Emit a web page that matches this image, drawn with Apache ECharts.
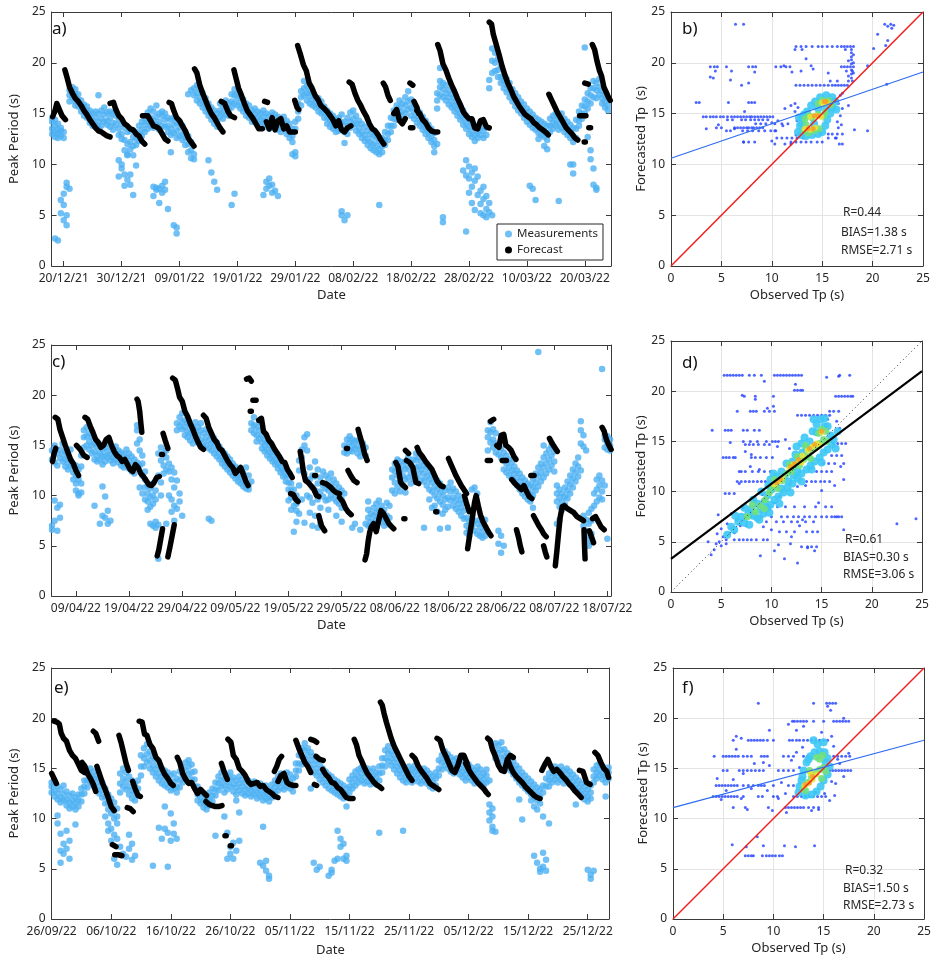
<!DOCTYPE html>
<html>
<head>
<meta charset="utf-8">
<script src="https://cdn.jsdelivr.net/npm/echarts@6/dist/echarts.min.js"></script>
<style>
html,body{margin:0;padding:0;background:#fff;}
#chart{width:937px;height:960px;}
</style>
</head>
<body>
<div id="chart"></div>
<script>
// ---------- tick labels ----------
var tickDaysA = [0,10,20,30,40,50,60,70,80,90];
var tickLabelsA = ['20/12/21','30/12/21','09/01/22','19/01/22','29/01/22','08/02/22','18/02/22','28/02/22','10/03/22','20/03/22'];
var tickDaysC = [0,10,20,30,40,50,60,70,80,90,100];
var tickLabelsC = ['09/04/22','19/04/22','29/04/22','09/05/22','19/05/22','29/05/22','08/06/22','18/06/22','28/06/22','08/07/22','18/07/22'];
var tickDaysE = [0,10,20,30,40,50,60,70,80,90];
var tickLabelsE = ['26/09/22','06/10/22','16/10/22','26/10/22','05/11/22','15/11/22','25/11/22','05/12/22','15/12/22','25/12/22'];

// ---------- panel a : measurements [day, values...] (day 0 = 20/12/21) ----------
var measA = [
[-2.0,13.5,14.2,13.0,14.6],[-1.5,13.8,13.2,12.7,14.4,2.7],[-1.0,14.0,13.4,12.6,13.0,2.5],[-0.5,13.6,12.8,13.3,5.2,6.5],
[0.0,13.2,12.6,7.1,4.5,6.0],[0.5,8.2,7.8,4.0,5.0],[1.0,16.8,17.3,16.2,7.6],[1.5,17.2,16.6,17.6],[2.0,16.9,16.2,17.4,15.8],
[2.5,16.4,15.7,16.9],[3.0,15.8,16.3,15.2],[3.5,15.5,15.9,14.8],[4.0,15.2,14.6,15.7],[4.5,14.8,15.3,14.1],[5.0,14.3,15.0,13.8],
[5.5,14.6,13.9,15.2],[6.0,14.2,15.0,13.6,16.8],[6.5,14.5,13.8,15.3],[7.0,14.9,14.2,15.6],[7.5,14.3,15.1,13.9],[8.0,14.6,15.2,13.7],
[8.5,14.1,15.0,13.4],[9.0,14.8,13.9,15.3],[9.5,13.5,14.4,12.9,10.4,8.8],[10.0,13.0,14.0,12.5,9.6,10.0],[10.5,12.4,13.6,11.4,7.9,9.0],
[11.0,12.0,13.2,11.0,10.9,8.5],[11.5,12.2,11.5,13.3,8.0,9.0],[12.0,11.8,12.7,10.9,7.0],[12.5,12.5,11.9,13.2,9.9],[13.0,13.0,12.3,13.8],
[13.5,13.4,12.8,14.2],[14.0,13.9,13.2,14.5],[14.5,14.2,13.5,15.1],[15.0,13.8,14.6,15.5],[15.5,14.3,13.6,15.2,7.8,6.9],
[16.0,14.7,13.9,15.8,7.5,7.7],[16.5,14.2,15.0,13.4,7.6,6.2],[17.0,14.8,13.8,15.2,7.9,7.2],[17.5,14.4,13.7,15.0,8.3,7.5],
[18.0,13.8,14.6,13.2,5.6],[18.5,13.5,14.4,12.9,11.2],[19.0,13.9,13.1,14.6,4.0],[19.5,13.3,14.1,12.6,3.2,3.8],[20.0,13.6,12.8,14.2],
[20.5,13.0,12.4,13.8],[21.0,12.6,11.9,13.2],[21.5,12.0,11.2,12.8,16.9],[22.0,11.4,10.6,12.2,17.3],[22.5,10.5,11.0,17.5,16.8],
[23.0,17.8,17.0,16.3],[23.5,17.4,16.6,16.0],[24.0,17.0,16.2,15.6],[24.5,16.5,15.8,15.2],[25.0,16.0,15.3,14.8,10.4],
[25.5,15.6,14.9,14.4,9.2],[26.0,15.3,14.6,14.0,8.3],[26.5,15.0,14.3,13.7,7.5],[27.0,15.3,14.7,16.0],[27.5,15.1,14.5,15.8],
[28.0,15.6,14.9,16.3],[28.5,15.4,16.0,14.8],[29.0,16.2,15.6,16.9,6.0],[29.5,16.8,16.0,17.4,7.1],[30.0,16.5,15.8,17.0],
[30.5,16.1,15.5,16.7],[31.0,15.7,15.2,16.4],[31.5,15.4,14.8,16.0],[32.0,15.1,14.6,15.8],[32.5,15.3,14.7,14.2],[33.0,14.9,14.3,15.5],
[33.5,14.6,14.0,15.2],[34.0,14.4,13.8,15.0],[34.5,14.7,14.1,15.3,7.0],[35.0,14.3,13.7,15.0,8.3,7.6],[35.5,14.0,13.5,14.8,8.6,7.9],
[36.0,14.5,13.8,15.1,8.0,7.2],[36.5,14.2,13.6,14.9,7.4],[37.0,14.0,13.4,14.7,6.9],[37.5,13.8,14.5,13.2],[38.0,14.1,13.5,14.7],
[38.5,13.6,13.0,14.3],[39.0,13.2,12.6,14.0],[39.5,12.8,12.2,13.5,11.0],[40.0,13.5,11.2,14.2,10.8],[40.5,15.2,16.0,14.5],
[41.0,16.6,17.2,15.8],[41.5,17.5,16.8,18.2],[42.0,17.0,16.3,17.7],[42.5,16.7,17.3,16.0],[43.0,16.4,17.0,15.8],[43.5,16.1,16.6,15.6],
[44.0,15.8,16.5,15.2],[44.5,15.5,16.2,15.0],[45.0,15.1,14.6,15.7],[45.5,14.6,14.0,15.3],[46.0,14.3,13.7,15.0],[46.5,14.0,13.5,14.8],
[47.0,13.7,14.4,13.2],[47.5,13.8,14.6,13.3],[48.0,14.1,13.4,14.9,5.4,5.0],[48.5,13.2,12.1,14.2,4.5],[49.0,13.8,14.6,13.0,5.0],
[49.5,14.2,15.1,13.6],[50.0,14.5,13.9,15.3],[50.5,14.0,13.3,14.8],[51.0,13.6,13.0,14.3],[51.5,13.2,12.6,14.0],[52.0,12.9,12.3,13.7],
[52.5,12.5,11.9,13.3],[53.0,12.2,11.6,13.0],[53.5,12.0,11.4,12.8],[54.0,11.8,11.2,12.6],[54.5,11.5,12.3,11.0,6.0],[55.0,11.8,12.6,11.2],
[55.5,12.4,13.2,11.9],[56.0,13.0,13.8,12.4],[56.5,13.8,14.6,13.2],[57.0,14.5,15.3,13.8],[57.5,15.0,15.8,14.4],[58.0,15.6,16.3,14.9],
[58.5,15.2,16.0,14.5],[59.0,15.8,16.6,15.0],[59.5,16.2,17.2,15.4],[60.0,15.6,14.8,16.4],[60.5,15.2,14.5,15.9],[61.0,14.8,14.1,15.5],
[61.5,14.4,13.8,15.1],[62.0,14.0,13.4,14.7],[62.5,13.6,13.0,14.3],[63.0,13.2,12.6,13.9],[63.5,12.8,12.2,13.5],[64.0,12.4,11.8,13.1,11.2],
[64.5,15.5,16.3,17.0,12.0],[65.0,16.8,17.6,18.2,19.5],[65.5,17.4,16.6,18.0,4.8,4.3],[66.0,17.0,16.3,17.8],[66.5,16.6,15.9,17.3],
[67.0,16.2,15.6,16.9],[67.5,15.8,15.2,16.5],[68.0,15.4,14.8,16.0],[68.5,15.0,14.4,15.7],[69.0,14.6,13.9,15.3,9.4],
[69.5,14.1,13.5,14.8,10.4,8.9,3.4],[70.0,13.7,13.0,14.4,9.8,8.6,7.2],[70.5,13.3,12.7,14.0,9.2,7.8,6.2],[71.0,12.9,12.3,13.6,8.4,9.6,5.5],
[71.5,13.2,12.6,13.8,8.8,7.0],[72.0,13.6,12.9,14.2,7.4,6.1,5.2],[72.5,12.6,13.3,6.6,5.0,7.8],[73.0,12.9,13.6,5.6,6.9,4.8],
[73.5,17.5,18.3,6.2,5.3],[74.0,19.0,20.2,21.4,5.0],[74.5,21.0,20.0,19.2],[75.0,20.4,19.3,18.6],[75.5,19.6,18.6,18.0],
[76.0,18.2,17.5,18.8],[76.5,17.8,17.1,18.4],[77.0,17.3,16.6,18.0],[77.5,16.8,16.2,17.4],[78.0,16.4,15.7,17.0],[78.5,16.0,15.3,16.6],
[79.0,15.6,15.0,16.2],[79.5,15.2,14.6,15.9],[80.0,14.8,14.2,15.5],[80.5,14.5,13.9,15.2,7.9],[81.0,14.2,13.6,14.9,7.6],
[81.5,14.0,13.4,14.6,6.5],[82.0,13.7,13.1,14.4,12.5],[82.5,13.5,12.9,14.2],[83.0,13.3,12.7,14.0,11.8],[83.5,13.0,12.4,13.8,11.5],
[84.0,13.8,14.5,13.2],[84.5,14.1,14.8,13.5],[85.0,14.4,15.0,13.8],[85.5,14.0,14.7,13.4,6.4],[86.0,14.3,15.0,13.6],[86.5,13.8,14.5,13.2],
[87.0,13.5,14.2,12.9],[87.5,13.2,13.9,12.6,10.0],[88.0,12.8,13.6,12.2,9.1,10.0],[88.5,13.5,14.4,12.6],[89.0,14.3,15.2,13.8],
[89.5,15.0,15.8,14.5],[90.0,15.7,16.4,15.0,21.5],[90.5,16.2,17.0,15.5,12.7],[91.0,16.8,17.5,16.0,11.4,10.5],[91.5,17.5,18.2,16.6,9.6,8.0],
[92.0,18.0,17.3,16.5,7.5,7.7],[92.5,17.6,16.9,18.4],[93.0,17.2,16.5,16.0],[93.5,16.8,16.2,15.6],[94.0,16.5,15.8,15.3]
];
// panel a : forecast segments [[day, value], ...]
var fcA = [
[[-1.9,14.7],[-1.5,15.3],[-1.2,16.0],[-0.9,16.1],[-0.6,15.2],[-0.3,14.8],[0.0,14.7],[0.3,14.4]],
[[0.2,19.3],[0.6,18.5],[1.0,17.6],[1.5,17.0],[2.0,16.5],[2.5,16.2],[3.0,15.8],[3.5,15.3],[4.0,14.9],[4.5,14.4],[5.0,14.0],[5.5,13.6],[6.0,13.3],[6.5,13.2],[7.0,13.0],[7.5,12.8],[8.0,12.7]],
[[8.0,16.0],[8.6,16.1],[9.0,15.4],[9.5,14.8],[10.0,14.5],[10.5,14.0],[11.0,13.8],[11.5,13.5],[12.0,13.4],[12.5,13.0],[13.0,12.8],[13.5,12.3],[14.0,12.0]],
[[13.6,14.8],[14.5,14.8],[15.0,14.3],[15.5,13.8],[16.0,13.7],[16.5,13.5],[17.0,13.0],[17.5,12.5],[18.0,12.3]],
[[18.2,16.1],[18.6,16.0],[19.0,15.3],[19.5,14.6],[20.0,14.3],[20.5,13.8],[21.0,13.3],[21.5,12.6],[22.0,12.2],[22.5,11.8]],
[[22.6,19.4],[23.0,19.0],[23.5,17.8],[24.0,17.0],[24.5,16.3],[25.0,15.6],[25.5,15.0],[26.0,14.6],[26.5,14.1],[27.0,13.6],[27.5,13.2]],
[[27.2,16.2],[27.8,16.0],[28.3,15.3],[28.8,14.8],[29.5,14.6]],
[[29.4,19.3],[29.8,18.4],[30.2,17.5],[30.7,16.8],[31.2,16.0],[31.7,15.3],[32.2,14.9],[32.7,14.5],[33.2,14.0],[33.7,13.5],[34.3,13.5]],
[[34.7,16.2],[35.2,16.1]],
[[35.0,14.2],[35.5,13.5],[36.0,14.6],[36.5,13.4],[37.0,14.3],[37.5,14.5],[38.0,13.5],[38.5,13.8],[39.0,13.2],[39.5,13.2],[40.0,13.2]],
[[39.9,16.3],[40.3,15.6],[40.6,15.4]],
[[40.4,21.7],[40.9,20.8],[41.4,19.8],[41.9,19.2],[42.4,18.0],[42.9,17.5],[43.4,16.8],[43.9,16.4],[44.4,15.8],[45.0,15.5],[45.5,15.2],[46.0,14.8],[46.5,14.4],[47.0,13.8],[47.5,14.3],[48.0,13.4],[48.5,13.2],[49.0,13.6],[49.6,13.8]],
[[49.3,18.1],[49.8,17.9],[50.3,17.0],[50.8,16.3],[51.3,15.8],[51.8,15.2],[52.3,14.7],[52.8,14.0],[53.3,13.5],[53.8,13.3],[54.3,12.9],[54.8,12.4],[55.3,12.0]],
[[55.2,18.0],[55.6,17.6],[56.0,16.8],[56.4,16.3]],
[[57.0,15.0],[57.5,15.4],[58.0,14.3],[58.5,14.0],[59.0,14.5]],
[[59.8,18.0],[60.3,17.8]],
[[60.5,16.2],[61.0,15.6],[61.3,15.0]],
[[59.9,13.6],[60.3,13.6]],
[[61.0,15.3],[61.5,15.0],[62.0,14.4],[62.5,14.1],[63.0,13.6],[63.5,13.3],[64.0,13.2],[64.6,13.2]],
[[64.6,21.8],[65.0,21.2],[65.5,19.9],[66.0,19.3],[66.5,18.5],[67.0,17.8],[67.5,17.2],[68.0,16.5],[68.5,15.9],[69.0,15.2],[69.5,14.8],[70.0,14.5],[70.5,14.5],[71.0,13.6],[71.5,13.5],[72.0,14.3],[72.5,14.4],[73.0,13.7],[73.5,13.6]],
[[73.5,24.0],[73.9,23.8],[74.2,22.8],[74.7,21.8],[75.2,20.8],[75.7,19.7],[76.2,18.8],[76.7,18.0],[77.2,17.4],[77.7,16.7],[78.2,16.2],[78.7,15.7],[79.2,15.3],[79.7,14.9],[80.2,14.7],[80.7,14.5],[81.2,14.1],[81.7,13.9],[82.2,13.6],[82.7,13.4],[83.2,13.2],[83.7,12.9]],
[[83.8,16.9],[84.3,16.3],[84.8,15.7],[85.3,15.1],[85.8,14.6],[86.3,14.1],[86.8,13.6],[87.3,13.3],[87.8,13.0],[88.3,12.6],[88.8,12.4]],
[[89.1,14.8],[89.7,14.8],[90.2,14.8]],
[[90.0,18.0],[90.6,17.9]],
[[89.9,12.2],[90.1,12.2]],
[[90.7,13.6],[91.0,13.6]],
[[91.3,21.8],[91.7,21.3],[92.1,20.2],[92.5,19.3],[92.9,18.7],[93.3,17.6],[93.7,17.1],[94.1,16.6],[94.4,16.3]]
];

// ---------- panel c : measurements (day 0 = 09/04/22) ----------
var measC = [
[-4.5,14.5,13.6,7.0,6.6],[-4.0,15.0,13.3,9.5,7.5],[-3.5,14.2,13.0,8.8,6.5],[-3.0,14.6,13.7,9.1,7.8],[-2.5,15.2,14.1,13.4],
[-2.0,14.4,13.6,12.9],[-1.5,13.9,13.2,12.6],[-1.0,13.5,14.6,12.9],[-0.5,13.0,12.3,11.6],[0.0,12.0,11.2,13.0,10.5],
[0.5,11.6,12.6,10.2,10.0],[1.0,14.0,12.9,11.2,10.3],[1.5,15.8,14.8,16.5],[2.0,16.8,15.9,15.0],[2.5,16.2,15.4,14.6],
[3.0,15.8,15.0,14.2],[3.5,15.2,14.4,13.6,9.0],[4.0,14.9,14.0,13.4],[4.5,14.3,13.6,15.1,7.2],[5.0,14.6,13.9,13.1,8.0,10.9],
[5.5,14.0,13.4,14.8,7.8,9.9],[6.0,14.4,13.8,15.3,7.2,8.5],[6.5,14.1,13.5,14.9,7.5],[7.0,13.8,14.6,13.2],[7.5,14.2,13.6,14.9],
[8.0,13.9,13.3,14.5],[8.5,13.6,14.3,13.0],[9.0,13.4,14.1,12.8],[9.5,13.8,14.6,13.0],[10.0,13.5,14.2,12.7],[10.5,13.1,13.9,12.4],
[11.0,12.8,13.6,12.2],[11.5,15.2,16.5,17.0,13.3],[12.0,14.5,15.6,13.0,10.8],[12.5,13.2,12.0,14.0,10.2],[13.0,11.6,12.4,10.8,9.6],
[13.5,11.0,10.2,9.4,8.6],[14.0,10.7,9.8,8.9,7.2],[14.5,11.2,10.0,9.2,7.0],[15.0,10.5,9.6,7.4,6.8],[15.5,14.2,12.0,7.1,3.7],
[16.0,13.5,14.8,11.3,10.0],[16.5,13.0,14.2,12.2],[17.0,13.8,14.5,12.6,7.2],[17.5,13.2,12.4,10.0],[18.0,12.8,11.6,9.6,8.4],
[18.5,12.3,10.8,9.0,7.5],[19.0,17.2,16.5,11.5,8.7],[19.5,17.8,16.9,10.2,9.4],[20.0,18.2,17.3,16.6,8.0],[20.5,17.5,16.8,16.0],
[21.0,17.2,16.4,15.8],[21.5,17.0,16.2,15.5],[22.0,16.8,16.0,15.2],[22.5,16.4,15.7,17.3],[23.0,16.0,15.4,16.8],[23.5,16.5,15.6,17.2],
[24.0,16.2,15.3,14.8],[24.5,15.8,15.0,16.6],[25.0,15.5,14.7,16.3,7.7],[25.5,15.2,14.5,16.0,7.5],[26.0,15.0,14.2,15.7],
[26.5,14.6,13.9,15.3],[27.0,14.2,13.6,14.9],[27.5,13.8,13.2,14.5],[28.0,13.5,12.9,14.2],[28.5,13.2,12.6,13.9],[29.0,12.9,12.3,13.6],
[29.5,12.6,12.0,13.2],[30.0,12.3,11.7,12.9],[30.5,12.0,11.4,12.7],[31.0,11.8,11.2,12.5],[31.5,11.5,10.9,12.2],[32.0,11.2,10.7,12.8],
[32.5,11.0,10.6,12.0],[33.0,17.2,16.5,11.4],[33.5,17.8,17.0,16.2],[34.0,16.8,16.0,15.4],[34.5,16.5,15.7,17.3],[35.0,16.0,15.3,14.7],
[35.5,15.6,15.0,14.4],[36.0,15.3,14.6,14.0],[36.5,15.0,14.3,13.7],[37.0,14.6,14.0,13.4],[37.5,14.3,13.6,13.1],[38.0,13.9,13.2,12.7],
[38.5,13.6,12.9,12.3],[39.0,13.2,12.5,11.9],[39.5,12.7,12.0,11.4],[40.0,12.0,11.3,10.6,9.5],[40.5,11.2,10.5,9.8,8.6],
[41.0,10.6,9.8,9.0,6.4],[41.5,10.0,9.2,8.5,7.4],[42.0,13.5,12.5,11.0,8.2],[42.5,14.6,13.8,9.6],[43.0,15.8,15.0,12.2,7.3],
[43.5,16.1,14.5,11.5,10.0],[44.0,12.8,11.6,9.8,8.3],[44.5,12.0,10.8,9.3,7.0],[45.0,13.4,11.9,10.5,8.0],[45.5,12.6,11.2,9.6,6.8],
[46.0,11.8,10.4,8.8,7.2],[46.5,12.4,11.0,9.9],[47.0,12.0,10.7,9.5],[47.5,11.7,10.5,9.6,8.6],[48.0,12.2,11.1,10.0],[48.5,11.6,10.6,9.7],
[49.0,11.2,10.3,9.4,8.0],[49.5,10.8,10.0,9.2],[50.0,10.5,9.6,8.8,7.4],[50.5,15.0,14.3,10.2],[51.0,15.6,14.8,14.2],[51.5,15.3,14.5,15.9],
[52.0,15.0,14.4,15.6,6.8],[52.5,15.4,14.7,7.2],[53.0,14.9,14.2,15.5],[53.5,14.6,13.9,6.6],[54.0,15.2,14.4],[54.5,14.8,14.0,7.2],
[55.0,8.6,7.8,7.0,9.4],[55.5,8.2,7.4,6.9],[56.0,8.8,8.0,7.3],[56.5,9.2,8.3,7.6,6.8],[57.0,9.5,8.6,7.8],[57.5,9.0,8.2,7.4],
[58.0,8.6,7.7,7.0],[58.5,8.0,7.3,9.3],[59.0,7.8,7.1,9.0],[59.5,10.5,11.8,12.6],[60.0,11.3,12.4,13.2,10.2],[60.5,12.0,13.0,13.6,10.8],
[61.0,12.5,13.4,11.4,10.4],[61.5,13.0,12.0,11.0],[62.0,13.4,12.6,11.6,10.3],[62.5,12.8,11.8,13.8],[63.0,13.2,12.2,11.2],
[63.5,12.6,11.6,13.6],[64.0,13.5,12.8,11.8,14.2],[64.5,13.8,12.9,12.2],[65.0,13.4,12.6,11.6],[65.5,13.0,12.2,11.4,6.8],
[66.0,12.8,11.9,11.0],[66.5,12.4,11.6,10.6,9.6],[67.0,12.1,11.3,10.4,8.8],[67.5,11.8,10.9,10.0,9.0],[68.0,11.5,10.6,9.7,8.4],
[68.5,11.2,10.3,9.4,6.7],[69.0,10.8,10.0,9.1,8.2],[69.5,10.5,9.6,8.6],[70.0,10.8,9.8,8.9,6.8],[70.5,11.3,10.4,9.5],[71.0,10.7,9.8,9.0],
[71.5,10.4,9.5,8.7],[72.0,10.0,9.2,8.4],[72.5,9.6,8.8,8.0],[73.0,9.3,8.5,7.7],[73.5,7.8,7.0,6.3],[74.0,7.4,6.6,6.0],[74.5,10.6,7.8,6.9],
[75.0,10.8,7.5,6.5],[75.5,10.2,7.2,6.2],[76.0,7.6,6.8,6.0],[76.5,7.2,6.4,5.8],[77.0,6.8,6.0,7.6],[77.5,14.5,15.8,16.5,6.4],
[78.0,15.3,16.3,17.3],[78.5,14.8,15.6,16.6],[79.0,14.3,15.2,16.2],[79.5,15.0,14.1,6.5,5.2],[80.0,14.7,13.8,6.0,4.3],
[80.5,14.3,13.5,12.6,5.0],[81.0,14.0,13.2,12.3],[81.5,13.6,12.8,12.0],[82.0,13.3,12.5,11.7],[82.5,12.9,12.2,11.4],[83.0,12.5,11.8,11.0],
[83.5,12.2,11.4,10.6],[84.0,11.8,11.0,10.2],[84.5,11.5,10.7,9.9],[85.0,11.2,10.4,9.6],[85.5,11.0,10.2,9.4],[86.0,11.6,10.8,10.0,8.8],
[86.5,12.2,11.3,10.5],[87.0,12.8,11.9,10.9,24.3],[87.5,13.2,12.3,11.4],[88.0,13.8,12.8,11.8,15.0],[88.5,14.2,13.2,12.2],
[89.0,14.6,13.6,12.6],[89.5,15.0,14.0,13.0],[90.0,14.4,13.4,12.4],[90.5,11.0,10.2,9.4,7.2],[91.0,10.6,9.8,8.9,7.6],[91.5,10.2,9.4,8.6],
[92.0,10.8,9.9,9.1],[92.5,11.4,10.5,9.7],[93.0,12.0,11.1,10.2],[93.5,12.6,11.7,10.8],[94.0,13.2,12.3,11.4],[94.5,13.8,12.9,11.9],
[95.0,15.2,16.5,17.4,12.5],[95.5,14.9,16.0,8.0,7.0],[96.0,14.5,7.6,6.5,5.6],[96.5,8.3,7.2,6.0,5.0],[97.0,8.7,7.5,6.2,5.4],
[97.5,10.2,9.0,7.8],[98.0,11.6,10.6,9.4],[98.5,12.0,11.0,9.8],[99.0,22.6,11.5,10.4,9.6],[99.5,14.8,15.6,16.0,11.0],
[100.0,15.2,15.9,14.6,5.7],[100.5,15.0,15.6,14.5]
];
var fcC = [
[[-4.4,13.4],[-4.1,14.2],[-3.8,14.7]],
[[-3.9,17.8],[-3.4,17.6],[-3.0,16.6],[-2.5,15.8],[-2.0,15.0],[-1.5,14.3],[-1.0,13.6],[-0.5,13.2],[0.0,12.5],[0.5,12.0]],
[[0.1,15.0],[0.8,14.6],[1.5,14.0],[2.1,13.8]],
[[1.7,17.8],[2.2,17.6],[2.7,16.9],[3.2,16.3],[3.7,15.6],[4.2,15.3],[4.7,14.8],[5.2,15.0],[5.7,15.6],[6.2,15.8],[6.7,15.0],[7.2,14.4],[7.7,14.0],[8.2,13.8],[8.7,13.4],[9.2,13.6],[9.7,13.1],[10.2,12.6],[10.7,12.4],[11.2,13.1],[11.7,12.8],[12.2,12.2],[12.7,11.9],[13.2,11.5],[13.7,11.1],[14.2,11.0],[14.7,11.3],[15.2,11.8],[15.7,11.9]],
[[11.5,19.6],[11.7,19.4],[12.0,18.4],[12.2,17.3],[12.4,16.3]],
[[15.3,4.0],[15.6,4.6],[15.9,5.5],[16.3,6.7]],
[[16.1,14.1],[16.3,14.1]],
[[16.4,16.2],[16.8,15.5],[17.3,14.7]],
[[17.3,3.9],[17.7,4.9],[18.1,6.0],[18.5,7.1]],
[[18.2,21.7],[18.7,21.5],[19.1,20.7],[19.5,19.8],[20.0,19.4],[20.5,18.4],[21.0,17.9],[21.5,17.2],[22.0,16.6],[22.5,15.9],[23.0,15.3],[23.5,14.8],[24.0,14.6]],
[[24.0,18.0],[24.5,17.7],[25.0,16.8],[25.5,16.2],[26.0,15.6],[26.5,15.3],[27.0,14.7],[27.5,14.5],[28.0,14.0],[28.5,13.5],[29.0,13.1],[29.5,12.8],[30.0,12.2],[30.5,12.5],[31.0,12.8],[31.5,12.1],[32.0,11.4],[32.4,11.0]],
[[32.1,21.6],[32.6,21.7],[33.0,21.4]],
[[32.8,18.4],[33.0,18.4]],
[[33.3,19.5],[33.9,19.5]],
[[34.4,17.5],[34.9,17.7],[35.3,16.4],[35.8,16.1],[36.3,15.5],[36.8,15.2],[37.3,14.7],[37.8,14.3],[38.3,13.9],[38.8,13.4],[39.3,13.3],[39.8,12.6],[40.3,12.2],[40.7,11.8]],
[[40.4,10.2],[40.9,10.1],[41.4,9.6],[41.8,9.4]],
[[42.2,14.4],[42.5,13.5],[42.8,12.4],[43.2,11.5],[43.7,11.3],[44.2,11.0],[44.8,10.6],[45.3,10.0],[45.7,9.9]],
[[44.9,12.0],[45.1,12.0]],
[[45.7,8.0],[46.2,7.0],[46.8,6.5]],
[[46.4,11.3],[47.0,11.2],[47.5,11.0],[48.0,10.8],[48.5,10.5],[49.0,10.3],[49.6,10.2]],
[[49.6,9.8],[50.2,9.4],[50.7,8.8],[51.2,8.4],[51.8,8.1]],
[[50.9,14.7],[51.1,14.7]],
[[51.2,12.5],[51.7,12.0],[52.3,11.5],[52.9,11.3]],
[[53.1,16.6],[53.5,15.8],[53.9,15.1],[54.3,14.2],[54.8,13.5]],
[[54.4,3.6],[54.7,4.2],[55.0,5.5],[55.3,6.4],[55.6,6.9],[56.0,7.2],[56.5,6.4],[57.0,7.6],[57.4,8.5],[57.9,8.2],[58.4,7.7],[58.9,7.2],[59.4,6.9],[59.8,6.7]],
[[60.2,13.3],[60.6,12.9],[61.1,11.3],[61.6,11.0],[62.0,10.8]],
[[61.7,7.7],[61.9,7.7]],
[[62.0,14.5],[62.6,14.2]],
[[62.2,13.5],[62.8,13.3],[63.4,12.8],[63.7,12.0],[64.0,11.3],[64.5,11.2]],
[[64.2,14.8],[64.6,14.3],[65.2,13.9],[65.8,13.4],[66.4,13.0],[67.0,12.6],[67.5,12.0],[68.0,11.4],[68.6,11.0],[69.1,10.9]],
[[67.7,8.4],[67.9,8.4]],
[[70.1,13.7],[70.5,13.2],[71.0,12.6],[71.5,12.0],[72.0,11.5],[72.5,11.0],[73.0,10.6],[73.5,10.2]],
[[73.1,10.0],[73.5,9.2],[74.0,8.4]],
[[73.7,4.7],[74.1,6.1],[74.6,7.8],[75.0,9.3],[75.3,10.0],[75.7,9.0],[76.1,8.1],[76.6,7.4],[77.1,6.9],[77.6,6.4],[78.1,6.0]],
[[77.4,13.5],[78.0,13.5]],
[[78.0,17.4],[78.6,17.6]],
[[79.2,15.0],[79.6,14.8],[80.0,16.0],[80.5,16.1],[80.9,15.0],[81.4,14.8],[81.9,14.5],[82.4,13.9],[82.8,13.6]],
[[80.2,13.5],[81.0,13.5]],
[[82.0,11.6],[82.6,11.2],[83.2,10.9],[83.8,10.6],[84.3,11.0],[84.8,10.4],[85.3,9.9],[85.8,9.7]],
[[85.6,12.0],[86.2,12.0]],
[[82.9,6.6],[83.3,5.8],[83.6,5.0],[83.9,4.4]],
[[86.1,8.0],[86.6,7.5],[87.1,7.0],[87.6,6.6],[88.0,6.2],[88.5,5.9]],
[[88.0,5.0],[88.3,4.4],[88.6,3.9]],
[[89.1,15.7],[89.6,15.2],[90.1,14.8],[90.6,14.4]],
[[90.2,3.0],[90.5,4.5],[90.8,6.2],[91.1,7.8],[91.5,8.9],[91.9,9.0],[92.5,8.7],[93.1,8.5],[93.7,8.3],[94.3,7.9],[94.9,7.7],[95.5,7.5]],
[[95.6,6.6],[95.7,5.0],[95.8,3.7]],
[[96.6,6.5],[97.0,5.9],[97.4,5.3]],
[[97.2,7.7],[97.8,7.9],[98.3,7.4],[98.8,6.9],[99.4,6.6]],
[[99.0,16.8],[99.4,16.4],[99.8,15.6],[100.3,15.0],[100.7,14.6]]
];

// ---------- panel e : measurements (day 0 = 26/09/22) ----------
var measE = [
[0.0,13.2,12.6,13.6],[0.5,12.8,12.2,13.5],[1.0,12.5,11.9,13.2,10.3,9.5],[1.5,12.1,11.6,12.9,8.5,6.8,5.6],[2.0,12.4,11.8,13.3,7.5,6.5],
[2.5,11.9,11.3,12.7,8.8,7.0],[3.0,11.6,11.0,12.3,7.8,6.0],[3.5,11.8,11.2,12.5],[4.0,11.5,10.9,12.1,9.4],[4.5,11.8,11.2,12.4],
[5.0,12.4,11.7,13.0],[5.5,13.2,12.5,13.8],[6.0,13.8,13.1,14.5],[6.5,14.3,13.6,15.0],[7.0,14.0,13.3,14.7],[7.5,13.6,12.9,14.3],
[8.0,13.2,12.5,14.0],[8.5,12.8,12.1,13.6],[9.0,12.2,11.5,13.0,10.2],[9.5,11.6,10.9,12.4,9.5,8.8],[10.0,11.2,10.5,12.0,9.0,7.8],
[10.5,10.8,10.0,11.6,8.4,6.0],[11.0,10.2,9.5,11.0,8.0,5.4],[11.5,13.5,14.5,12.6,7.2],[12.0,14.0,15.0,13.2,6.5],[12.5,13.7,14.6,12.9,6.2],
[13.0,13.2,14.2,12.4,8.4,7.0],[13.5,12.8,13.8,12.0,7.5,5.9],[14.0,12.5,13.5,11.8,6.3],[14.5,13.0,13.8,12.3],[15.0,15.2,16.3,14.3],
[15.5,16.0,17.0,15.2],[16.0,16.4,17.4,15.6],[16.5,15.8,16.7,15.0],[17.0,15.3,16.2,14.6,5.3],[17.5,14.9,15.8,14.2],[18.0,14.5,15.3,13.8,9.1],
[18.5,14.2,15.0,13.5,8.0],[19.0,14.0,14.8,13.3,9.0,11.2],[19.5,13.8,14.6,13.1,8.6,5.2],[20.0,13.5,14.3,12.8,7.8,10.5],
[20.5,13.7,14.5,13.0,8.5,9.5],[21.0,13.2,14.0,12.6,8.0],[21.5,13.8,14.7,13.1],[22.0,14.3,15.1,13.6],[22.5,14.8,15.6,14.0],
[23.0,15.2,15.8,14.4],[23.5,14.6,15.4,13.9],[24.0,13.9,14.7,13.2],[24.5,13.2,12.4,11.8],[25.0,12.8,12.1,11.5],[25.5,12.4,11.7,11.1],
[26.0,12.0,11.4,10.9],[26.5,12.6,11.9,11.3],[27.0,13.0,12.3,11.7],[27.5,13.6,12.9,12.3,8.3],[28.0,14.2,13.5,12.8],[28.5,14.6,13.8,13.2],
[29.0,14.0,13.3,12.6,10.2],[29.5,14.3,13.6,12.9,8.6,6.0],[30.0,14.6,13.9,13.2,7.2,6.5],[30.5,14.1,13.4,12.7,7.6,6.0],
[31.0,13.8,13.1,12.4,6.8,11.8],[31.5,14.2,13.5,12.8,7.8,10.6],[32.0,13.9,13.2,12.5],[32.5,13.6,12.9,12.3],[33.0,13.8,13.1,12.5],
[33.5,13.5,12.8,12.2],[34.0,13.7,13.0,12.4],[34.5,13.3,12.6,12.0],[35.0,13.5,12.8,12.2,5.6],[35.5,13.1,12.4,11.8,5.3,9.2],
[36.0,13.3,12.6,12.0,4.8,5.8],[36.5,12.9,12.2,11.7,4.3,4.0],[37.0,13.4,12.7,12.1],[37.5,13.8,13.1,12.5],[38.0,14.2,13.5,12.8],
[38.5,14.5,13.8,13.1],[39.0,14.2,13.5,12.9],[39.5,14.6,13.9,13.2],[40.0,14.4,13.7,13.0],[40.5,14.0,13.3,12.7],[41.0,14.8,15.5,14.2],
[41.5,15.5,16.3,14.8],[42.0,16.2,17.0,15.4],[42.5,16.8,17.5,15.9],[43.0,16.3,17.0,15.5],[43.5,15.8,16.6,15.0,13.0],[44.0,15.4,16.2,14.6,5.6],
[44.5,15.0,15.8,14.3,4.9],[45.0,14.6,15.4,13.9,5.2],[45.5,14.3,15.0,13.6],[46.0,14.0,14.7,13.3],[46.5,13.7,14.4,13.0,4.3],
[47.0,13.5,14.2,12.8,4.6,4.9],[47.5,13.2,13.9,12.6,5.8],[48.0,13.0,13.7,12.4,6.0,8.8],[48.5,12.8,13.5,12.2,7.2,8.0],
[49.0,12.6,13.3,12.0,6.0,7.5],[49.5,12.4,13.0,11.2,6.3,5.8],[50.0,13.2,13.9,12.6],[50.5,13.6,14.3,13.0],[51.0,14.0,14.7,13.3],
[51.5,14.2,14.9,13.6],[52.0,14.5,15.1,13.8],[52.5,14.1,14.8,13.5],[53.0,14.4,15.0,13.7],[53.5,14.0,14.7,13.4],[54.0,14.3,15.0,13.6],
[54.5,14.0,14.6,13.4],[55.0,14.5,15.2,13.8,8.6],[55.5,15.3,16.0,14.6],[56.0,16.0,16.8,15.2],[56.5,16.5,17.2,15.7],[57.0,16.0,16.7,15.3],
[57.5,15.6,16.3,14.9],[58.0,15.2,15.9,14.5],[58.5,14.8,15.4,14.1],[59.0,14.5,15.1,13.8,8.8],[59.5,14.2,14.8,13.6],[60.0,14.6,15.2,13.9],
[60.5,14.3,14.9,13.6],[61.0,14.7,15.3,14.0],[61.5,14.4,15.0,13.7],[62.0,14.1,14.7,13.5],[62.5,14.5,15.0,13.8],[63.0,14.2,14.8,13.5],
[63.5,13.9,14.5,13.2],[64.0,13.6,14.2,13.0],[64.5,14.0,14.6,13.3],[65.0,15.0,15.8,14.3],[65.5,15.6,16.3,14.9],[66.0,16.0,16.7,15.3],
[66.5,15.7,16.4,15.0],[67.0,15.4,16.1,14.7],[67.5,15.1,15.8,14.5],[68.0,15.4,16.0,14.8],[68.5,15.0,15.7,14.4],[69.0,14.7,15.4,14.1],
[69.5,14.4,15.0,13.8],[70.0,14.8,15.4,14.1],[70.5,14.5,15.1,13.8],[71.0,14.2,14.8,13.5],[71.5,14.6,15.2,13.9],[72.0,14.2,14.9,13.6],
[72.5,13.9,14.5,13.3],[73.0,14.3,14.9,13.6],[73.5,13.8,11.4,10.6,9.8],[74.0,11.0,10.2,9.2,8.8],[74.5,16.0,16.8,17.5,8.7],
[75.0,16.5,17.3,15.6],[75.5,16.8,17.6,16.0],[76.0,16.2,16.9,15.5],[76.5,15.8,16.5,15.1],[77.0,15.4,16.1,14.8],[77.5,15.0,15.7,14.4],
[78.0,14.6,15.3,14.0],[78.5,14.3,15.0,13.6,11.9],[79.0,13.9,14.6,13.3,9.9],[79.5,13.6,14.3,13.0],[80.0,13.3,14.0,12.7],
[80.5,13.0,13.7,12.4,11.8],[81.0,12.7,13.4,12.1,11.2,6.3],[81.5,12.4,13.1,11.8,10.9,5.6],[82.0,12.2,12.9,11.5,5.0,4.7],
[82.5,12.6,13.3,10.2,5.2,6.6],[83.0,13.2,14.0,4.8,5.9],[83.5,13.8,14.5,13.2,9.5],[84.0,14.2,14.9,13.6],[84.5,14.5,15.2,13.9],
[85.0,14.2,14.9,13.6],[85.5,14.5,15.2,13.9],[86.0,14.1,14.8,13.5],[86.5,14.4,15.0,13.8],[87.0,14.0,14.7,13.4],[87.5,13.7,14.4,13.1],
[88.0,13.4,14.1,12.8,11.4],[88.5,13.1,13.8,12.5],[89.0,12.8,13.5,12.2],[89.5,12.5,13.2,11.9],[90.0,12.2,12.9,11.7,4.9],
[90.5,12.6,13.3,12.0,4.4,4.0],[91.0,14.2,14.9,13.6,4.8],[91.5,14.6,15.3,14.0],[92.0,14.9,15.5,14.3],[92.5,14.5,15.2,13.9],
[93.0,14.2,14.8,13.6,12.2],[93.5,14.6,15.1,14.0]
];
var fcE = [
[[0.0,14.5],[0.4,14.0],[0.8,13.5]],
[[0.4,19.7],[0.9,19.6],[1.3,19.4],[1.6,18.5],[2.0,18.0],[2.5,17.7],[3.0,16.8],[3.5,16.3],[4.0,16.0],[4.5,15.4],[5.0,14.8],[5.5,14.6]],
[[5.1,15.6],[5.6,15.2],[6.1,14.4],[6.6,13.9],[7.0,13.4],[7.4,12.7]],
[[7.0,18.7],[7.4,18.5],[7.9,17.7]],
[[7.6,15.2],[8.0,14.5],[8.5,13.6],[9.0,12.9],[9.5,12.1],[10.0,11.2],[10.5,10.8]],
[[10.2,7.4],[10.8,7.2]],
[[10.6,6.4],[11.2,6.4],[11.8,6.3]],
[[11.3,18.3],[11.7,17.5],[12.1,16.5],[12.5,15.5],[12.9,14.8]],
[[12.7,11.1],[13.2,11.0],[13.7,10.7]],
[[13.6,13.7],[14.0,13.0],[14.5,12.3],[14.9,12.2]],
[[14.7,19.7],[15.2,19.6],[15.6,18.4],[16.0,18.3],[16.5,17.4],[17.0,17.0],[17.5,16.1],[18.0,15.8],[18.5,15.0],[19.0,14.4],[19.5,14.0],[20.0,13.5],[20.4,13.3]],
[[21.1,16.1],[21.5,15.6],[22.0,14.5],[22.5,13.9],[23.0,13.5],[23.5,13.6],[24.0,13.0],[24.5,12.5],[25.0,12.9],[25.5,12.6],[26.0,12.3]],
[[25.9,11.7],[26.5,11.4],[27.0,11.3],[27.5,11.2],[28.0,11.2],[28.6,11.3]],
[[28.5,15.5],[29.0,14.6],[29.5,13.9]],
[[29.1,8.3],[29.3,8.3]],
[[30.0,7.3],[30.2,7.3]],
[[29.6,17.9],[30.1,17.6],[30.5,16.3],[31.0,15.9],[31.5,15.0],[32.0,14.7],[32.5,14.3],[33.0,13.7],[33.5,13.4],[34.0,13.5],[34.5,13.6],[35.0,13.2],[35.5,13.3],[36.0,12.9],[36.5,12.7],[37.0,12.5],[37.5,12.2],[38.0,12.1]],
[[37.4,14.7],[37.8,15.2],[38.2,15.9],[38.6,16.2]],
[[38.0,13.7],[38.5,14.3],[39.0,14.5],[39.5,13.6],[40.0,13.4],[40.5,13.3],[41.0,13.3]],
[[41.0,17.8],[41.5,17.0],[42.0,16.3],[42.5,15.6],[43.0,15.2],[43.5,14.6]],
[[43.5,17.9],[44.0,17.8],[44.5,17.6]],
[[44.4,16.2],[45.0,15.9],[45.6,15.8]],
[[44.1,13.4],[44.5,13.3]],
[[45.5,14.9],[46.0,14.4],[46.5,14.1],[47.0,13.6],[47.5,13.5],[48.0,13.1],[48.5,12.9],[49.0,12.5],[49.5,12.1],[50.0,12.0],[50.6,12.0]],
[[50.8,17.9],[51.2,17.3],[51.6,16.3],[52.0,15.8],[52.5,15.1],[53.0,14.5],[53.5,14.1],[54.0,13.7],[54.5,13.4],[55.0,13.2],[55.4,13.0]],
[[55.2,21.6],[55.5,21.3],[55.8,20.5],[56.2,19.6],[56.6,18.8],[57.0,18.0],[57.5,17.2],[58.0,16.6],[58.5,16.0],[59.0,15.4],[59.5,14.8],[60.0,14.2],[60.5,13.8]],
[[60.5,16.3],[61.0,16.0],[61.5,15.3],[62.0,14.8],[62.5,14.4],[63.0,14.0],[63.5,13.5],[64.0,13.3],[64.5,13.1],[65.0,12.9]],
[[64.7,18.0],[65.2,17.8],[65.7,16.8],[66.2,16.2],[66.7,15.5],[67.2,14.8],[67.7,14.6],[68.2,15.3],[68.7,16.3],[69.2,16.3],[69.7,15.6],[70.0,15.0]],
[[69.5,15.5],[70.0,14.9],[70.5,14.4],[71.0,14.0],[71.5,13.6],[72.0,13.3],[72.5,13.0],[73.0,12.6],[73.3,12.4]],
[[73.2,18.0],[73.6,17.8],[74.0,16.9],[74.5,16.2],[75.0,15.3],[75.5,14.8],[76.0,14.7],[76.5,15.9],[77.0,16.3],[77.5,16.1]],
[[76.6,15.8],[77.0,15.2],[77.5,14.6],[78.0,14.2],[78.5,13.9],[79.0,13.6],[79.5,13.2],[80.0,12.9],[80.5,12.6],[81.0,12.3],[81.5,12.1],[82.0,12.0]],
[[82.3,14.8],[82.8,15.4],[83.3,15.9],[83.8,15.2],[84.3,14.7]],
[[84.8,14.9],[85.3,14.6],[85.8,14.2],[86.3,13.9],[86.8,13.5],[87.3,13.2],[87.8,12.8],[88.3,12.5],[88.9,12.1]],
[[88.6,14.8],[89.2,14.7],[89.8,13.6],[90.4,13.4]],
[[91.2,16.6],[91.7,16.3],[92.2,15.6],[92.7,15.0],[93.2,14.7],[93.5,14.1]]
];

// ---------- scatter panels: streaks [forecast y, [observed x...]] + loose points [x, y] ----------
var streaksB = [
[14.7,[3.2,3.5,3.9,4.2,4.5,4.9,5.2,5.6,6.0,6.3,6.6,6.9,7.2,7.5,7.8,8.0,8.3,8.6,8.9,9.2,9.5,9.8,10.1]],
[14.4,[5.6,6.1,7.0,7.4,7.9,8.3,8.7,9.1,9.6]],
[13.6,[4.5,5.0,6.3,6.6,6.9,7.2,7.5,7.7,8.0,8.2,8.5,8.8,9.1]],
[13.3,[5.5,5.9,7.1,7.6,8.1,8.7,9.3,9.9,10.4]],
[14.0,[8.4,8.9,9.4,10.3,11.0]],
[21.6,[12.4,12.9,13.4,14.0,14.6,15.0,15.5,16.0,16.5,16.9,17.2,17.5,17.8,18.1]],
[21.3,[12.3,13.0,17.3,17.9]],
[19.6,[3.9,4.3,4.6,5.5,7.7,8.1,8.4,10.4,10.9,11.4,11.8,16.9,17.2,17.5,17.8,18.1]],
[19.2,[4.4,6.0,12.9,17.4,18.0]],
[17.8,[12.4,12.8,13.2,13.6,14.0,14.4,14.8,15.2,15.6,16.0,16.3,16.6,16.9,17.2,17.5]],
[18.2,[15.8,16.5,17.6,18.0]],
[16.1,[2.5,2.8,5.7,7.7,8.0,8.3]],
[12.2,[7.2,7.7,8.3,11.9,12.4,12.9,13.4,13.9,14.5,15.0]],
[12.6,[10.5,11.0,11.5,12.0,12.5,13.1,15.6,16.3]],
[12.0,[10.3,11.3,11.9,16.7,17.0]],
[13.0,[15.6,16.0,16.5,17.0]]
];
var looseB = [
[17.9,18.5],[17.9,18.9],[17.9,19.3],[17.9,19.9],[17.9,20.3],[17.9,20.6],[17.9,21.0],[18.1,19.0],[18.1,20.0],[18.1,20.8],[17.6,18.7],[17.6,20.2],
[6.4,23.8],[7.2,23.8],[21.2,23.8],[21.5,23.6],[21.8,23.8],[22.1,23.7],[21.9,23.4],[20.5,22.8],[21.5,22.2],[21.3,21.7],[20.1,21.4],
[21.4,17.9],[19.5,19.7],[19.5,13.3],[18.2,13.4],[17.6,15.8],[16.8,16.8],[17.0,17.0],[11.3,15.5],[11.9,15.8],[12.3,16.0],[12.3,15.2],
[11.6,14.0],[11.1,13.8],[10.6,14.3],[10.0,14.1],[3.9,18.6],[4.2,18.5],[5.9,18.3],[7.0,17.8],[7.7,18.0],[7.3,15.2],[7.2,12.2],
[10.3,13.3],[10.0,12.3],[12.0,19.1],[13.4,20.4],[11.2,19.7],[16.5,14.2],[16.8,14.8],[17.0,15.5],[16.6,13.6],[16.9,13.9],[14.1,19.4],
[15.6,19.0],[13.9,19.7],[8.3,19.1],[6.3,13.5],[3.5,13.5],[4.7,13.9],[12.4,12.9],[12.5,14.3],[12.6,15.6],[16.6,16.0],[16.4,12.6]
];
var coreB = {
  c1: [[12.6,13.2],[12.8,13.8],[13.0,14.6],[12.9,12.9],[13.4,12.8],[14.0,12.9],[14.6,13.0],[15.0,13.2],[15.3,13.8],[15.5,14.4],[15.8,15.0],[16.0,15.6],[16.3,16.2],[16.0,16.6],[15.4,16.8],[14.8,16.6],[14.3,16.2],[13.9,15.8],[13.5,15.2],[13.2,14.9],[14.2,14.0],[15.4,15.5],[14.6,15.5],[16.4,15.4],[13.0,14.0],[12.7,14.6]],
  c2: [[13.2,13.3],[13.6,13.1],[14.2,13.3],[14.7,13.5],[13.4,13.9],[14.0,14.6],[14.6,14.9],[15.1,14.8],[15.3,15.1],[14.6,16.0],[15.0,16.3],[15.6,16.3],[15.9,15.9],[13.7,14.8],[13.3,14.5]],
  c3: [[13.3,13.5],[13.8,13.4],[14.3,13.6],[13.8,14.7],[14.4,14.8],[14.9,14.7],[15.0,16.1],[15.5,16.1],[15.2,16.0]],
  c4: [[13.6,13.5],[14.1,13.5],[14.2,14.8],[14.6,14.8],[15.2,16.2],[15.4,16.2]]
};

var streaksD = [
[21.6,[5.3,5.6,5.9,6.2,6.5,6.8,7.1,7.8,8.3,9.0,10.3,10.6,10.9,11.2,11.5,11.8,12.1,12.4,12.7,13.0,16.8,17.8]],
[20.1,[12.3,12.6,12.9,13.1]],
[19.5,[7.3,8.4,16.4,16.7,17.0,17.3,17.6,17.9,18.1]],
[18.0,[6.6,7.9,8.2,8.5,9.3,9.8,10.3,15.8,16.2,16.7]],
[17.6,[12.6,13.0,13.4,13.8,14.2,14.6,15.0,15.4,15.8]],
[16.1,[4.1,5.4,5.7,6.0,7.2,7.6,8.3,8.8]],
[15.0,[7.2,7.9,8.6,9.5,10.1,10.4,10.7]],
[14.7,[7.4,7.8,8.2,8.7,9.3,9.8]],
[13.4,[5.2,5.5,5.8,6.2,8.0,8.4,8.9,9.5,10.1]],
[12.0,[6.8,7.4,8.1,8.7,9.3,9.9,14.5,15.0,15.5,16.0]],
[11.0,[6.6,7.0,7.4,7.8,8.2,8.6,9.0,9.4,13.5,14.0,14.4,14.9,15.3,15.8]],
[12.8,[15.2,15.7,16.3,17.2]],
[13.6,[16.0,16.5,17.0]],
[14.8,[16.2,16.6,17.0,17.4]],
[9.8,[5.4,5.8,6.3]],
[8.5,[9.6,10.6,11.4,12.3,13.3,14.4,15.4,16.0]],
[7.5,[8.0,9.0,10.0,11.0,11.6,12.2,12.7,13.3,13.8,14.4,15.0,15.5,16.0,16.5,17.0]],
[7.0,[9.5,10.5,11.2,12.0,12.6,13.4,14.2]],
[5.2,[5.5,6.3,6.8,7.2,7.6,8.0,8.5,9.2,9.6]],
[6.0,[10.8,11.5,12.3,13.5,14.6]],
[4.5,[13.0,13.6,14.0,14.5]]
];
var looseD = [
[4.3,4.2],[4.0,3.7],[4.5,4.8],[4.8,5.0],[5.0,4.6],[5.2,5.5],[5.5,4.8],[5.8,5.8],[4.6,5.8],[3.7,5.0],[4.7,7.7],[8.9,3.6],[10.3,4.1],
[10.7,4.7],[11.3,3.3],[11.9,4.8],[12.6,2.9],[13.6,4.4],[14.3,4.1],[12.0,5.5],[12.8,6.6],[13.1,7.2],[14.1,6.0],[16.3,7.5],[16.7,7.5],
[17.2,6.2],[22.5,6.8],[24.4,7.3],[7.1,19.6],[8.4,19.2],[9.3,21.0],[12.4,20.7],[10.2,19.5],[16.7,21.5],[15.5,21.4],[9.6,18.3],[10.2,18.5],
[5.9,14.9],[6.4,13.4],[7.4,14.0],[7.9,12.5],[8.8,12.2],[9.0,10.2],[6.8,10.8],[10.6,14.5],[11.8,14.3],[11.4,15.2],[10.8,9.5],[10.3,8.9],
[12.6,10.5],[13.4,10.6],[16.9,12.5],[17.2,11.2],[15.0,10.1],[16.3,10.6],[14.7,8.9],[6.3,5.9],[6.9,6.6],[6.5,7.2],[7.5,6.6],[9.2,6.5],
[10.0,6.2],[8.0,13.7],[7.0,12.0],[15.6,17.2],[16.5,17.0],[16.8,16.3],[5.0,6.3],[5.6,6.8],[6.0,7.8],[7.2,8.4],[8.3,9.1],[9.1,9.7]
];
var coreD = {
  c1: [[5.6,5.7],[6.0,6.5],[6.3,6.2],[6.7,7.0],[7.0,7.5],[7.3,6.9],[7.7,7.8],[8.0,8.3],[8.2,7.6],[8.6,8.8],[8.9,8.2],[9.3,9.0],[9.6,9.6],[9.9,8.7],[10.0,10.2],[10.4,10.7],[11.0,10.3],[11.3,11.5],[11.7,11.0],[12.0,12.4],[12.2,11.6],[12.6,12.0],[12.8,13.2],[13.1,13.9],[13.5,14.3],[13.8,15.0],[14.1,16.0],[14.5,16.7],[14.9,17.2],[15.3,17.3],[15.6,16.5],[15.9,15.6],[16.2,15.2],[16.0,14.7],[15.6,14.2],[15.2,13.9],[14.8,13.4],[14.3,13.0],[13.9,12.6],[13.5,12.2],[13.0,11.8],[12.6,11.3],[12.1,10.8],[11.6,10.4],[11.2,9.9],[10.7,9.5],[10.3,9.2],[9.6,8.4],[9.2,7.8],[8.6,7.4],[11.0,12.0],[10.5,11.5],[12.1,13.0],[12.4,13.7],[13.0,14.8],[14.5,15.9],[15.3,16.5],[16.6,16.0],[10.2,11.8],[9.7,10.6],
       [6.4,7.6],[7.3,8.4],[8.2,9.2],[9.0,10.0],[7.8,6.7],[8.8,7.2],[9.8,7.9],[10.8,8.8],[11.9,9.9],[13.0,11.0],[14.0,12.2],[15.0,12.9],[12.5,14.5],[13.3,15.4],[14.2,17.2],[16.4,14.3],[11.5,12.8],[9.9,11.2]],
  c2: [[8.4,8.0],[8.9,8.6],[9.4,9.2],[9.8,9.9],[10.1,10.5],[10.6,10.3],[11.1,11.1],[11.5,11.8],[12.0,12.0],[12.3,12.6],[12.8,12.6],[13.2,13.2],[13.6,13.5],[14.0,14.2],[14.4,14.4],[14.8,14.8],[15.2,15.2],[14.7,15.8],[15.0,16.2],[15.4,16.0],[13.4,14.6],[12.6,13.5],[15.5,15.0],[10.3,11.2],[11.8,12.7],[13.9,13.3],[7.6,7.5],[8.1,8.7],[9.3,8.3]],
  c3: [[10.3,10.7],[10.7,11.0],[11.1,11.4],[11.8,12.3],[12.2,12.7],[12.7,13.0],[13.1,13.6],[13.6,14.1],[14.1,14.5],[14.5,14.8],[15.0,15.9],[13.0,12.9],[14.8,14.6]],
  c4: [[10.5,10.9],[10.9,11.2],[11.9,12.5],[12.3,12.8],[12.7,13.2],[13.8,14.3],[14.3,14.7],[15.0,16.0]]
};

var streaksF = [
[21.5,[14.0,15.3,15.6,15.9,16.2]],
[19.7,[11.9,12.1,12.4,12.7,13.0,13.3,14.0,15.0,16.0,16.3,16.6,16.9,17.2,17.5]],
[17.8,[6.0,7.5,7.8,8.1,8.4,8.7,9.0,9.4,10.0,11.6,11.9,12.3,12.6,13.0,13.4,13.8,14.2,14.6,15.0,15.4]],
[16.2,[4.1,5.0,5.3,5.6,5.9,6.2,6.5,7.0,7.4,7.8,8.8,9.1,9.4,11.0,11.5,12.0,13.0,13.4,16.0,16.4,16.8,17.2,17.6]],
[14.8,[5.0,5.4,6.6,7.0,7.4,7.8,8.2,8.6,9.0,10.5,11.0,11.5,15.6,15.9,16.2,16.5,16.8,17.1,17.4,17.7]],
[13.3,[4.3,4.6,4.9,5.2,5.5,5.8,6.1,6.4,7.0,7.5,8.0,8.5,8.8,9.1,10.0,11.5,12.0]],
[12.2,[4.0,4.3,4.6,4.9,5.2,5.5,5.8,6.1,6.4,7.0,8.5,8.9,10.0,10.4,12.0,12.4,12.8,13.2,13.6,14.0,14.4,14.8,15.2]],
[11.1,[6.0,7.2,9.5,11.2,11.5,11.8,12.1,12.4,12.7,13.0,13.5,14.0,14.5]],
[6.3,[7.2,7.5,7.8,8.0,8.9,9.3,9.6,9.9,10.2,10.6,10.9]]
];
var looseF = [
[8.5,21.5],[15.7,20.8],[15.4,21.2],[17.0,20.0],[13.0,19.2],[11.5,19.4],[9.6,18.8],[6.3,18.2],[6.8,18.0],[5.9,7.4],[7.3,7.2],[8.4,8.2],
[9.0,7.3],[11.1,7.3],[12.2,7.2],[14.1,7.3],[7.0,14.5],[6.0,13.9],[7.8,13.0],[9.4,12.8],[10.5,12.0],[11.2,12.5],[10.8,13.6],[9.6,15.3],
[9.0,15.6],[6.3,16.9],[8.1,15.5],[4.8,11.9],[4.4,14.0],[5.3,12.8],[6.8,12.0],[7.4,10.9],[9.9,10.8],[11.3,10.6],[13.8,10.8],[14.5,10.9],
[15.8,13.7],[16.2,13.5],[17.0,14.2],[16.6,15.5],[17.5,16.5],[16.0,17.2],[16.4,15.9],[12.3,18.8],[14.8,18.6],[12.6,15.1],[12.0,14.8],
[11.8,15.8],[14.2,12.6],[15.1,12.5],[12.3,16.6],[12.9,17.1],[15.8,18.2],[16.1,12.3],[15.6,11.8]
];
var coreF = {
  c1: [[12.5,12.6],[12.8,13.8],[13.0,14.8],[13.3,15.6],[13.7,16.2],[14.1,16.6],[14.6,16.7],[15.1,16.6],[15.4,16.0],[15.6,15.2],[15.4,14.4],[15.0,13.8],[14.7,13.2],[14.3,12.7],[13.8,12.4],[13.2,12.3],[12.6,13.2],[13.5,15.9],[14.4,17.4],[15.0,17.6],[14.0,17.8],[15.2,15.6],[12.9,14.2]],
  c2: [[13.0,13.0],[13.4,13.6],[13.8,14.1],[14.2,14.5],[14.6,14.9],[15.0,15.1],[14.6,15.9],[14.9,16.3],[14.3,16.1],[13.6,14.8],[14.8,14.0],[13.2,12.8],[15.2,14.7]],
  c3: [[13.1,13.3],[13.5,13.5],[13.9,13.9],[14.3,14.4],[13.7,14.5]],
  c4: [[13.2,13.4],[13.6,13.6],[13.9,14.2]]
};

// regression fits [intercept, slope] and stats text
var fitB = [10.6, 0.34], fitD = [3.3, 0.748], fitF = [11.1, 0.268];
var statsB = ['R=0.44','BIAS=1.38 s','RMSE=2.71 s'];
var statsD = ['R=0.61','BIAS=0.30 s','RMSE=3.06 s'];
var statsF = ['R=0.32','BIAS=1.50 s','RMSE=2.73 s'];

// ---------- helpers ----------
var AX = '#3a3a3a', TXT = '#262626', FONT = 'Noto Sans';
var BLUE = '#4cb0f2', DOT = '#2140ff';
var CORE = ['#3cc8f5', '#6ee07a', '#e6e23a', '#f4a328'];

function flatMeas(rows){
  var out = [];
  rows.forEach(function(r){ for (var i = 1; i < r.length; i++) out.push([r[0], r[i]]); });
  return out;
}
function joinSegs(segs){
  var out = [];
  segs.forEach(function(s, k){ if (k) out.push(['-','-']); s.forEach(function(p){ out.push(p); }); });
  return out;
}
function flatStreaks(rows, loose){
  var out = [];
  rows.forEach(function(r){ r[1].forEach(function(x){ out.push([x, r[0]]); }); });
  return out.concat(loose);
}

var xAxes = [], yAxes = [], series = [], refLines = [];
var labelStyle = {color: TXT, fontSize: 12, fontFamily: FONT};
var nameStyle = {color: TXT, fontSize: 13, fontFamily: FONT};

function addAxes(gi, cfg){
  var xi = xAxes.length, yi = yAxes.length;
  var line = {show: true, onZero: false, lineStyle: {color: AX, width: 1}};
  var split = {show: !!cfg.gridLines, lineStyle: {color: '#e4e4e4', width: 1}};
  var xTick = {show: true, inside: true, length: 5, lineStyle: {color: AX}};
  var xLab = Object.assign({margin: 7}, labelStyle);
  if (cfg.ticks) {
    xTick.customValues = cfg.ticks;
    xLab.customValues = cfg.ticks;
    xLab.formatter = function(v){ return cfg.labels[cfg.ticks.indexOf(Math.round(v))]; };
  }
  var xb = {type: 'value', gridIndex: gi, position: 'bottom', min: cfg.xmin, max: cfg.xmax,
    axisLine: line, axisTick: xTick, axisLabel: xLab, splitLine: split,
    name: cfg.xname, nameLocation: 'middle', nameGap: cfg.xgap || 23, nameTextStyle: nameStyle};
  if (!cfg.ticks) xb.interval = 5;
  var xt = {type: 'value', gridIndex: gi, position: 'top', min: cfg.xmin, max: cfg.xmax,
    axisLine: line, axisTick: Object.assign({}, xTick), axisLabel: {show: false}, splitLine: {show: false}};
  if (!cfg.ticks) xt.interval = 5;
  xAxes.push(xb, xt);
  var yTick = {show: true, inside: true, length: 5, lineStyle: {color: AX}};
  yAxes.push({type: 'value', gridIndex: gi, position: 'left', min: 0, max: 25, interval: 5,
    axisLine: line, axisTick: yTick, axisLabel: Object.assign({margin: 6}, labelStyle), splitLine: split,
    name: cfg.yname, nameLocation: 'middle', nameGap: 22, nameTextStyle: nameStyle});
  yAxes.push({type: 'value', gridIndex: gi, position: 'right', min: 0, max: 25, interval: 5,
    axisLine: line, axisTick: yTick, axisLabel: {show: false}, splitLine: {show: false}});
  return {x: xi, y: yi};
}

function addTimePanel(gi, cfg, meas, fc){
  var ax = addAxes(gi, cfg);
  series.push({type: 'scatter', name: 'Measurements', xAxisIndex: ax.x, yAxisIndex: ax.y,
    data: flatMeas(meas), symbolSize: 6.5, itemStyle: {color: BLUE}, silent: true, z: 2});
  series.push({type: 'line', name: 'Forecast', xAxisIndex: ax.x, yAxisIndex: ax.y,
    data: joinSegs(fc), showSymbol: false, connectNulls: false, silent: true, z: 3,
    itemStyle: {color: '#000'}, lineStyle: {color: '#000', width: 5.5, cap: 'round', join: 'round'}});
}

// diag = [colour, width, dash]; reference and fit lines are collected in refLines
function addScatterPanel(gi, tag, cfg, streaks, loose, core, fit, fitColor, fitWidth, diag){
  var ax = addAxes(gi, cfg);
  series.push({type: 'scatter', name: tag + ' points', xAxisIndex: ax.x, yAxisIndex: ax.y,
    data: flatStreaks(streaks, loose), symbolSize: 3, itemStyle: {color: DOT}, silent: true, z: 2});
  ['c1','c2','c3','c4'].forEach(function(k, i){
    series.push({type: 'scatter', name: tag + ' density ' + i, xAxisIndex: ax.x, yAxisIndex: ax.y, data: core[k],
      symbolSize: [8, 7, 6, 5][i], itemStyle: {color: CORE[i], opacity: 0.9}, silent: true, z: 3 + i});
  });
  refLines.push({type: 'line', id: tag + '_diag', name: tag + ' one-to-one', xAxisIndex: ax.x, yAxisIndex: ax.y,
    data: [[0, 0], [25, 25]], showSymbol: false, silent: true, z: 10,
    lineStyle: {color: diag[0], width: diag[1], type: diag[2]}});
  refLines.push({type: 'line', id: tag + '_fit', name: tag + ' fit', xAxisIndex: ax.x, yAxisIndex: ax.y,
    data: [[0, fit[0]], [25, fit[0] + 25 * fit[1]]], showSymbol: false, silent: true, z: 11,
    lineStyle: {color: fitColor, width: fitWidth, type: 'solid'}});
}

var grids = [
  {left: 42, top: 12, width: 569, height: 254},
  {left: 671, top: 12, width: 252, height: 254},
  {left: 42, top: 345, width: 569, height: 251},
  {left: 671, top: 341, width: 251, height: 251},
  {left: 43, top: 668, width: 566, height: 251},
  {left: 673, top: 668, width: 251, height: 251}
];

addTimePanel(0, {xmin: -2.09, xmax: 94.53, ticks: tickDaysA, labels: tickLabelsA, xname: 'Date', yname: 'Peak Period (s)'}, measA, fcA);
addScatterPanel(1, 'b', {xmin: 0, xmax: 25, gridLines: true, xname: 'Observed Tp (s)', yname: 'Forecasted Tp  (s)'},
  streaksB, looseB, coreB, fitB, '#2e6cf0', 1.2, ['#f01e1e', 1.5, 'solid']);
addTimePanel(2, {xmin: -4.57, xmax: 100.68, ticks: tickDaysC, labels: tickLabelsC, xname: 'Date', yname: 'Peak Period (s)'}, measC, fcC);
addScatterPanel(3, 'd', {xmin: 0, xmax: 25, gridLines: true, xname: 'Observed Tp (s)', yname: 'Forecasted Tp (s)'},
  streaksD, looseD, coreD, fitD, '#000000', 2.2, ['#333333', 1, [1, 3]]);
addTimePanel(4, {xmin: 0, xmax: 93.57, ticks: tickDaysE, labels: tickLabelsE, xname: 'Date', yname: 'Peak Period (s)', xgap: 25}, measE, fcE);
addScatterPanel(5, 'f', {xmin: 0, xmax: 25, gridLines: true, xname: 'Observed Tp (s)', yname: 'Forecasted Tp (s)'},
  streaksF, looseF, coreF, fitF, '#2e6cf0', 1.2, ['#f01e1e', 1.5, 'solid']);

// panel letters and statistics
var graphics = [];
[['a)', 52, 29], ['b)', 682, 29], ['c)', 52, 362], ['d)', 682, 363], ['e)', 54, 688], ['f)', 682, 688]].forEach(function(t){
  graphics.push({type: 'text', x: t[1], y: t[2], z: 20,
    style: {text: t[0], font: '17px "Noto Sans"', fill: '#111', verticalAlign: 'middle'}});
});
[[statsB, 841, [213, 233, 251]], [statsD, 843, [540, 558, 575]], [statsF, 843, [871, 889, 906]]].forEach(function(s){
  s[0].forEach(function(txt, i){
    graphics.push({type: 'text', x: s[1] - (i === 0 ? -2 : 0), y: s[2][i], z: 20,
      style: {text: txt, font: '12px "Noto Sans"', fill: TXT, verticalAlign: 'middle'}});
  });
});

var chart = echarts.init(document.getElementById('chart'));
chart.setOption({
  animation: false,
  backgroundColor: '#fff',
  grid: grids,
  xAxis: xAxes,
  yAxis: yAxes,
  legend: {
    data: [{name: 'Measurements', icon: 'circle'}, {name: 'Forecast', icon: 'circle'}],
    selectedMode: false, orient: 'vertical', left: 497, top: 224,
    itemWidth: 7, itemHeight: 7, itemGap: 4, itemTextGap: 6,
    padding: [4, 5, 4, 8], borderColor: '#262626', borderWidth: 1, backgroundColor: '#fff',
    textStyle: {fontSize: 11.5, color: TXT, fontFamily: FONT}
  },
  graphic: graphics,
  series: refLines.concat(series)
});
</script>
</body>
</html>
